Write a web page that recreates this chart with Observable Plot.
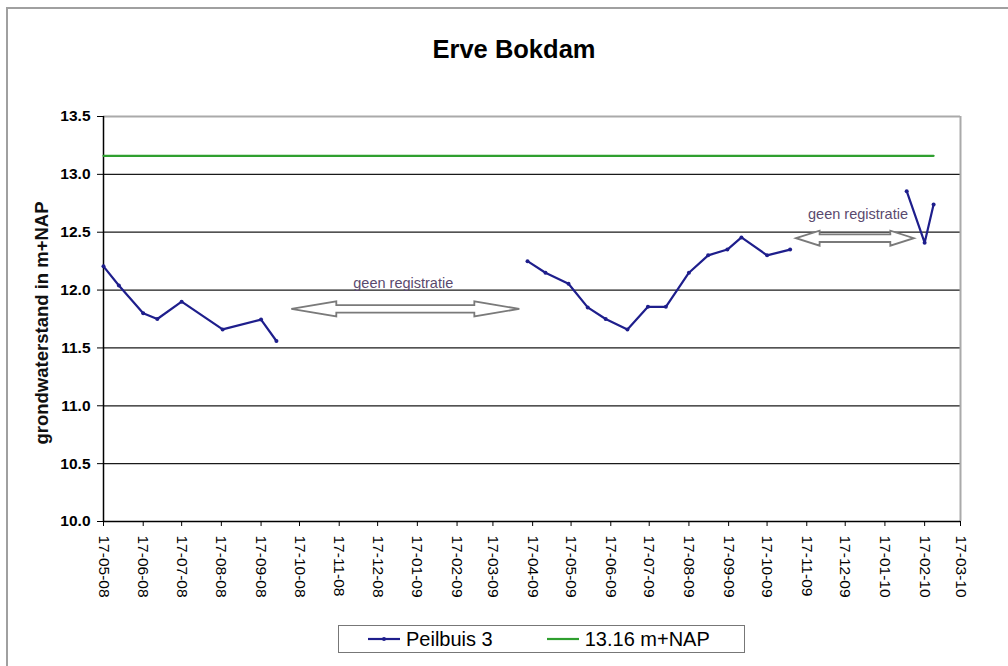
<!DOCTYPE html>
<html><head><meta charset="utf-8">
<script src="https://cdn.jsdelivr.net/npm/d3@7"></script>
<script src="https://cdn.jsdelivr.net/npm/@observablehq/plot@0.6"></script>
<style>
body{margin:0;background:#fff;font-family:"Liberation Sans",Arial,sans-serif;}
#wrap{position:relative;width:1008px;height:666px;overflow:hidden;background:#fff;}
#frame{position:absolute;left:6px;top:7px;width:1100px;height:800px;border:2px solid #a0a0a0;box-sizing:border-box;pointer-events:none}
#title{height:96px;box-sizing:border-box;padding-top:34px;padding-left:20px;text-align:center;font-size:25.5px;line-height:30px;font-weight:bold;color:#000}
#chart svg{display:block}
#chart [aria-label="y-axis tick label"] text, #chart [aria-label="y-axis"] text{font-weight:bold;font-size:15.5px}
#chart [aria-label="x-axis tick label"] text, #chart [aria-label="x-axis"] text{font-size:15.5px}
#legend{margin-top:9px;padding-left:338px}
#legend .box{display:inline-flex;align-items:center;width:407px;height:28px;box-sizing:border-box;border:1.5px solid #777;font-size:20px;color:#000}
#legend .item{display:inline-flex;align-items:center}
#legend svg{display:block;margin-right:6px}
</style>
</head><body>
<div id="wrap">
<div id="frame"></div>
<div id="title">Erve Bokdam</div>
<div id="chart"></div>
<div id="legend"></div>
</div>
<script>
// ---- data ----
const peilDates = [
  "2008-05-17","2008-05-29","2008-06-17","2008-06-28","2008-07-17","2008-08-18","2008-09-17","2008-09-29",
  "2009-01-01",
  "2009-04-13","2009-04-27","2009-05-15","2009-05-30","2009-06-13","2009-06-30","2009-07-16","2009-07-30",
  "2009-08-17","2009-09-01","2009-09-16","2009-09-27","2009-10-17","2009-11-04",
  "2009-12-20",
  "2010-02-03","2010-02-17","2010-02-24"
];
const peilValues = [
  12.205,12.04,11.80,11.75,11.90,11.66,11.745,11.56,
  null,
  12.25,12.15,12.055,11.85,11.75,11.66,11.855,11.855,
  12.15,12.30,12.35,12.455,12.30,12.35,
  null,
  12.855,12.41,12.74
];
const refDates = ["2008-05-17","2010-02-24"];
const refLevel = 13.16;
const xTickDates = [
  "2008-05-17","2008-06-17","2008-07-17","2008-08-17","2008-09-17","2008-10-17","2008-11-17","2008-12-17",
  "2009-01-17","2009-02-17","2009-03-17","2009-04-17","2009-05-17","2009-06-17","2009-07-17","2009-08-17",
  "2009-09-17","2009-10-17","2009-11-17","2009-12-17","2010-01-17","2010-02-17","2010-03-17"
];
const yTicks = [10.0,10.5,11.0,11.5,12.0,12.5,13.0,13.5];
const gridLevels = [10.5,11.0,11.5,12.0,12.5,13.0];
const noteText = ["geen registratie","geen registratie"];
const noteDates = ["2009-01-06","2009-12-27"];
const noteLevels = [12.06,12.655];
const arrowStarts = ["2008-10-11","2009-11-09"];
const arrowEnds = ["2009-04-07","2010-02-09"];
const arrowLevels = [11.833,12.444];
const seriesName = "Peilbuis 3";
const refName = "13.16 m+NAP";
const yLabel = "grondwaterstand in m+NAP";

// ---- build ----
const parse = d3.utcParse("%Y-%m-%d");
const series = peilDates.map((d,i)=>({date:parse(d), value:peilValues[i]}));
const ref = refDates.map(d=>({date:parse(d), value:refLevel}));
const xTicks = xTickDates.map(parse);
const xStart = xTicks[0], xEnd = xTicks[xTicks.length-1];
const notes = noteText.map((t,i)=>({text:t, date:parse(noteDates[i]), value:noteLevels[i]}));
const arrows = arrowStarts.map((s,i)=>({start:parse(s), end:parse(arrowEnds[i]), value:arrowLevels[i]}));

const blue = "#1e1e8c", green = "#2f9f2f";

function arrowMark(index, scales) {
  const sx = scales.x, sy = scales.y;
  const g = d3.create("svg:g").attr("aria-label","arrows");
  for (const a of arrows) {
    const x1 = sx(a.start), x2 = sx(a.end), y = sy(a.value);
    const L = Math.min(45, 0.2*(x2-x1)), H = 7.5, S = 3.8;
    const pts = [[x1,y],[x1+L,y-H],[x1+L,y-S],[x2-L,y-S],[x2-L,y-H],[x2,y],[x2-L,y+H],[x2-L,y+S],[x1+L,y+S],[x1+L,y+H]];
    g.append("path").attr("d","M"+pts.map(p=>p.join(",")).join("L")+"Z")
      .attr("fill","#fff").attr("stroke","#7a7a7a").attr("stroke-width",1.8).attr("stroke-linejoin","miter");
  }
  return g.node();
}

const chart = Plot.plot({
  width:1008, height:520,
  marginTop:20, marginBottom:95, marginLeft:103, marginRight:48,
  style:{fontFamily:"'Liberation Sans', Arial, sans-serif", fontSize:"15px", color:"#000", background:"transparent", overflow:"visible"},
  x:{type:"utc", domain:[xStart,xEnd], ticks:xTicks, tickFormat:d3.utcFormat("%d-%m-%y"), tickRotate:90, tickSize:5, tickPadding:9, label:null},
  y:{domain:[10,13.5], ticks:yTicks, tickFormat:d3.format(".1f"), tickSize:6, tickPadding:7, label:null},
  marks:[
    Plot.ruleY(gridLevels, {stroke:"#1a1a1a", strokeWidth:1.2}),
    Plot.ruleY([13.5], {stroke:"#aaaaaa", strokeWidth:2}),
    Plot.ruleX([xEnd], {stroke:"#aaaaaa", strokeWidth:2}),
    Plot.ruleX([xStart], {stroke:"#000", strokeWidth:1.5}),
    Plot.ruleY([10], {stroke:"#000", strokeWidth:1.5}),
    Plot.line(ref, {x:"date", y:"value", stroke:green, strokeWidth:2.2}),
    Plot.line(series, {x:"date", y:"value", stroke:blue, strokeWidth:2.2}),
    Plot.dot(series.filter(d=>d.value!=null), {x:"date", y:"value", r:2, fill:blue}),
    arrowMark,
    Plot.text(notes, {x:"date", y:"value", text:"text", fill:"#5a4a6e", fontSize:14.5}),
    Plot.text([yLabel], {frameAnchor:"left", textAnchor:"middle", rotate:-90, dx:-61, dy:4, text:d=>d, fontSize:18.5, fontWeight:"bold", fill:"#111"})
  ]
});
document.getElementById("chart").appendChild(chart);

// legend
const leg = d3.select("#legend").append("div").attr("class","box");
const it1 = leg.append("div").attr("class","item").style("margin-left","29px");
const s1 = it1.append("svg").attr("width",32).attr("height",10);
s1.append("line").attr("x1",0).attr("x2",32).attr("y1",5).attr("y2",5).attr("stroke",blue).attr("stroke-width",2.2);
s1.append("circle").attr("cx",16).attr("cy",5).attr("r",2).attr("fill",blue);
it1.append("span").text(seriesName);
const it2 = leg.append("div").attr("class","item").style("margin-left","54px");
const s2 = it2.append("svg").attr("width",32).attr("height",10);
s2.append("line").attr("x1",0).attr("x2",32).attr("y1",5).attr("y2",5).attr("stroke",green).attr("stroke-width",2.2);
it2.append("span").text(refName);
</script>
</body></html>
